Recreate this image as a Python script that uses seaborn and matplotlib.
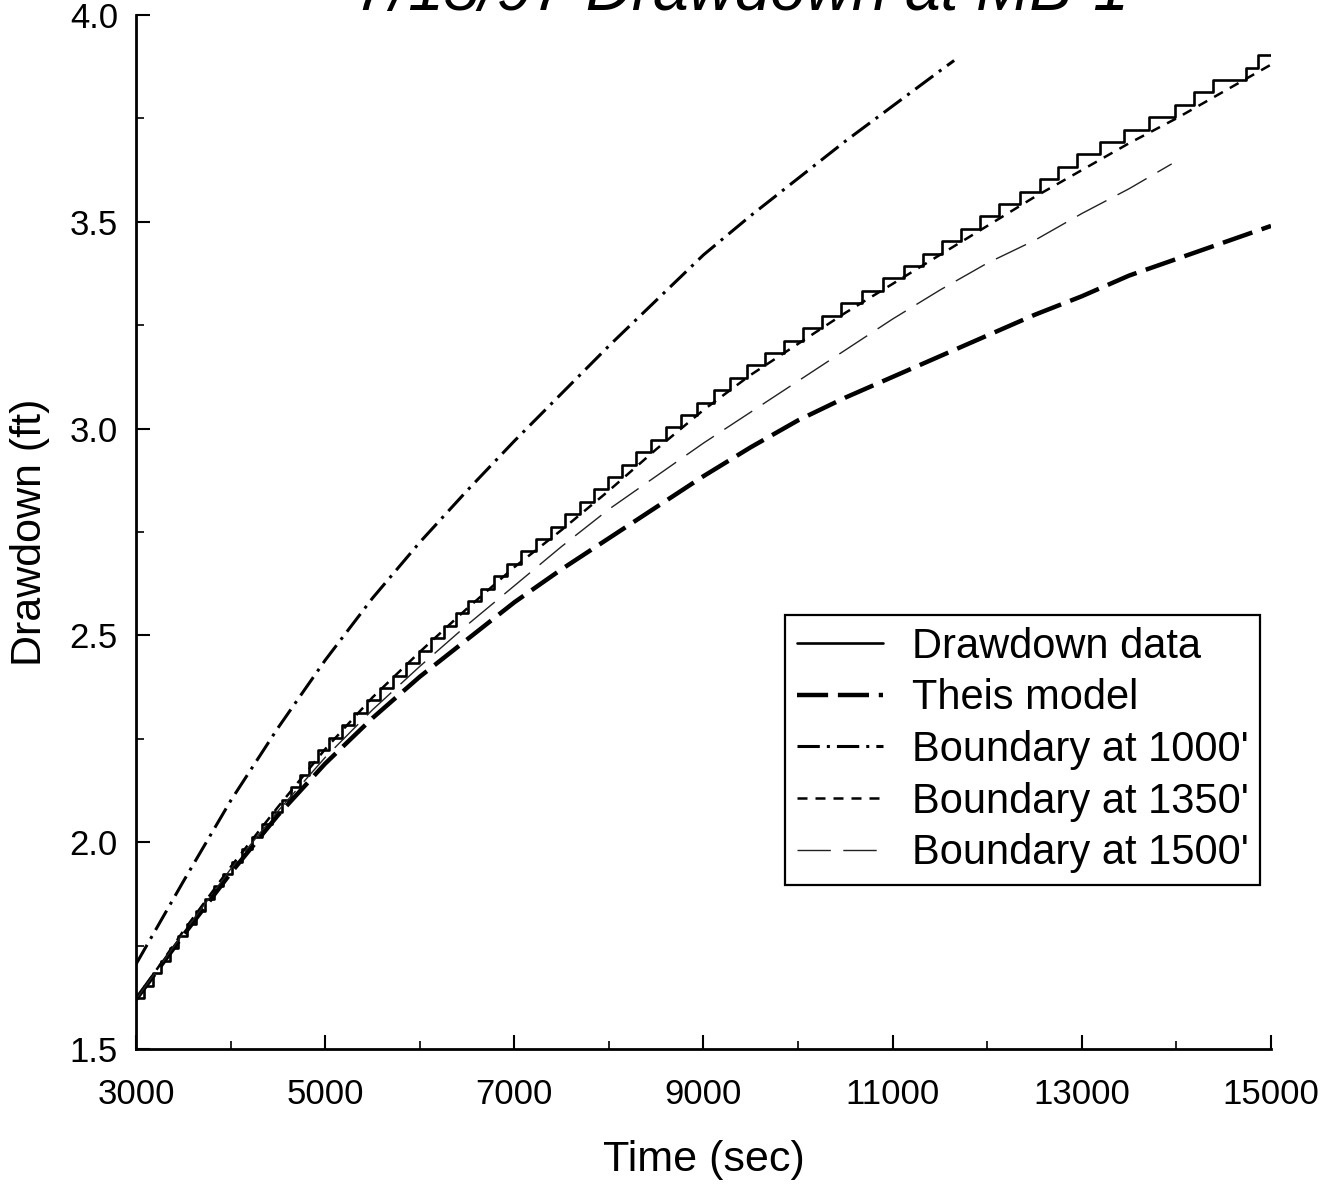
import matplotlib
matplotlib.use("Agg")
import matplotlib.pyplot as plt
import seaborn as sns
import pandas as pd
from matplotlib.ticker import MultipleLocator, FormatStrFormatter

# ---------------- data ----------------
data_time = [3000, 3085, 3176, 3267, 3358, 3448, 3541, 3634, 3728, 3822, 3916,
             4011, 4118, 4225, 4332, 4439, 4542, 4639, 4735, 4832, 4929,
             5036, 5173, 5309, 5445, 5582, 5718, 5855, 5991, 6122, 6252,
             6383, 6514, 6650, 6786, 6923, 7068, 7226, 7384, 7540, 7690,
             7840, 7990, 8140, 8290, 8440, 8600, 8767, 8933, 9106, 9282,
             9459, 9651, 9849, 10047, 10250, 10453, 10674, 10902, 11115, 11318,
             11520, 11720, 11920, 12129, 12343, 12553, 12753, 12953, 13192, 13442,
             13709, 13982, 14186, 14385, 14740, 14860, 15000]
data_drawdown = [1.623, 1.653, 1.683, 1.713, 1.743, 1.773, 1.803, 1.833, 1.863, 1.893, 1.923,
                 1.953, 1.983, 2.013, 2.043, 2.073, 2.103, 2.133, 2.163, 2.193, 2.223,
                 2.253, 2.283, 2.313, 2.343, 2.373, 2.403, 2.433, 2.463, 2.493, 2.523,
                 2.553, 2.583, 2.613, 2.643, 2.673, 2.703, 2.733, 2.763, 2.793, 2.823,
                 2.853, 2.883, 2.913, 2.943, 2.973, 3.003, 3.033, 3.063, 3.093, 3.123,
                 3.153, 3.183, 3.213, 3.243, 3.273, 3.303, 3.333, 3.363, 3.393, 3.423,
                 3.453, 3.483, 3.513, 3.543, 3.573, 3.603, 3.633, 3.663, 3.693, 3.723,
                 3.753, 3.783, 3.813, 3.843, 3.873, 3.903, 3.903]

theis_time = [3000, 3500, 4000, 4500, 5000, 5500, 6000, 6500, 7000, 7500, 8000, 8500,
              9000, 9500, 10000, 10500, 11000, 11500, 12000, 12500, 13000, 13500,
              14000, 14500, 15000]
theis_drawdown = [1.62, 1.775, 1.925, 2.065, 2.19, 2.30, 2.40, 2.49, 2.58, 2.66, 2.735, 2.81,
                  2.885, 2.955, 3.02, 3.075, 3.125, 3.175, 3.225, 3.275, 3.32, 3.37,
                  3.41, 3.45, 3.49]

b1000_time = [3000, 3500, 4000, 4500, 5000, 5500, 6000, 6500, 7000, 7500, 8000, 8500,
              9000, 9500, 10000, 10500, 11000, 11500, 11650]
b1000_drawdown = [1.705, 1.905, 2.10, 2.276, 2.44, 2.59, 2.725, 2.85, 2.97, 3.085, 3.20, 3.31,
                  3.42, 3.515, 3.605, 3.695, 3.78, 3.865, 3.89]

b1350_time = [3000, 3500, 4000, 4500, 5000, 5500, 6000, 6500, 7000, 7500, 8000, 8500,
              9000, 9500, 10000, 10500, 11000, 11500, 12000, 12500, 13000, 13500,
              14000, 14500, 15000]
b1350_drawdown = [1.62, 1.785, 1.94, 2.085, 2.225, 2.35, 2.46, 2.565, 2.665, 2.755, 2.85, 2.95,
                  3.045, 3.13, 3.205, 3.28, 3.35, 3.42, 3.49, 3.56, 3.625, 3.69,
                  3.75, 3.815, 3.88]

b1500_time = [3000, 3500, 4000, 4500, 5000, 5500, 6000, 6500, 7000, 7500, 8000, 8500,
              9000, 9500, 10000, 10500, 11000, 11500, 12000, 12500, 13000, 13500, 13950]
b1500_drawdown = [1.62, 1.78, 1.935, 2.075, 2.205, 2.32, 2.425, 2.525, 2.62, 2.715, 2.805, 2.885,
                  2.965, 3.04, 3.115, 3.19, 3.265, 3.335, 3.40, 3.455, 3.52, 3.58, 3.64]

labels = ["Drawdown data", "Theis model", "Boundary at 1000'",
          "Boundary at 1350'", "Boundary at 1500'"]
x_ticks = [3000, 5000, 7000, 9000, 11000, 13000, 15000]
y_ticks = [1.5, 2.0, 2.5, 3.0, 3.5, 4.0]

# ---------------- styling ----------------
sns.set_theme(style="ticks")
plt.rcParams["font.family"] = ["Liberation Sans", "DejaVu Sans"]
plt.rcParams["text.color"] = "black"
plt.rcParams["axes.labelcolor"] = "black"
plt.rcParams["xtick.color"] = "black"
plt.rcParams["ytick.color"] = "black"
plt.rcParams["axes.edgecolor"] = "black"

W, H = 1334, 1191
fig = plt.figure(figsize=(W / 100, H / 100), dpi=100)
ax = fig.add_axes([136 / W, 1 - 1049 / H, 1135 / W, 1034 / H])

df_data = pd.DataFrame({"t": data_time, "s": data_drawdown})
df_theis = pd.DataFrame({"t": theis_time, "s": theis_drawdown})
df_b1000 = pd.DataFrame({"t": b1000_time, "s": b1000_drawdown})
df_b1350 = pd.DataFrame({"t": b1350_time, "s": b1350_drawdown})
df_b1500 = pd.DataFrame({"t": b1500_time, "s": b1500_drawdown})

common = dict(x="t", y="s", ax=ax, estimator=None, sort=False, legend=False)
sns.lineplot(data=df_data, color="black", linewidth=1.9,
             drawstyle="steps-post", label=labels[0], **common)
sns.lineplot(data=df_theis, color="black", linewidth=3.2,
             linestyle=(0, (7, 2.2)), label=labels[1], **common)
sns.lineplot(data=df_b1000, color="black", linewidth=2.2,
             linestyle=(0, (7.3, 2.3, 1.0, 2.3)), label=labels[2], **common)
sns.lineplot(data=df_b1350, color="black", linewidth=1.8,
             linestyle=(0, (4.0, 3.2)), label=labels[3], **common)
sns.lineplot(data=df_b1500, color="#222222", linewidth=1.0,
             linestyle=(0, (24, 9)), label=labels[4], **common)

ax.set_xlim(3000, 15000)
ax.set_ylim(1.5, 4.0)
ax.set_xticks(x_ticks)
ax.set_yticks(y_ticks)
ax.xaxis.set_minor_locator(MultipleLocator(1000))
ax.yaxis.set_minor_locator(MultipleLocator(0.25))
ax.yaxis.set_major_formatter(FormatStrFormatter("%.1f"))

for side in ["top", "right"]:
    ax.spines[side].set_visible(False)
for side in ["left", "bottom"]:
    ax.spines[side].set_linewidth(2.0)
    ax.spines[side].set_color("black")

ax.tick_params(axis="both", which="major", direction="in", length=10, width=1.5,
               labelsize=25)
ax.tick_params(axis="both", which="minor", direction="in", length=6, width=1.2)
ax.tick_params(axis="x", which="major", pad=21)
ax.tick_params(axis="y", which="major", pad=13)

ax.set_xlabel("Time (sec)", fontsize=31, va="center")
ax.set_ylabel("Drawdown (ft)", fontsize=31, va="center")
ax.xaxis.set_label_coords(0.5, -(1160 - 1049) / 1034)
ax.yaxis.set_label_coords(-(136 - 30) / 1135, 0.5)

leg = ax.legend(loc="upper left", bbox_to_anchor=(785 / W, 1 - 615 / H),
                bbox_transform=fig.transFigure, fontsize=30, frameon=True,
                fancybox=False, framealpha=1, edgecolor="black",
                handlelength=2.06, handletextpad=0.7, labelspacing=0.28,
                borderpad=0.28, borderaxespad=0)
leg.get_frame().set_linewidth(1.6)

fig.text(742 / W, 1 - 10 / H, "7/15/97 Drawdown at MB-1", ha="center",
         va="baseline", fontsize=46, style="italic")

fig.savefig("out.png", dpi=100, facecolor="white")
